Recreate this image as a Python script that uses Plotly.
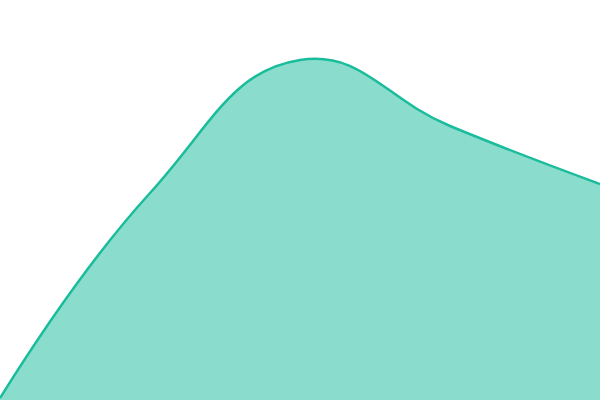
import plotly.graph_objects as go

categories = [0, 1, 2, 3, 4]
values = [2, 207, 340, 274, 216]

fig = go.Figure(go.Scatter(
    x=categories, y=values, mode="lines",
    line=dict(color="#1abc9c", width=2.5, shape="spline", smoothing=1.3),
    fill="tozeroy", fillcolor="rgba(26,188,156,0.51)",
    hoverinfo="skip",
))
fig.update_layout(
    width=600, height=400, margin=dict(l=0, r=0, t=0, b=0),
    paper_bgcolor="white", plot_bgcolor="white", showlegend=False,
    xaxis=dict(visible=False, range=[0, 4]),
    yaxis=dict(visible=False, range=[0, 400]),
)
fig.write_html(
    "out.html",
    config={"displayModeBar": False},
    post_script="document.body.style.margin='0';document.body.style.overflow='hidden';",
)
